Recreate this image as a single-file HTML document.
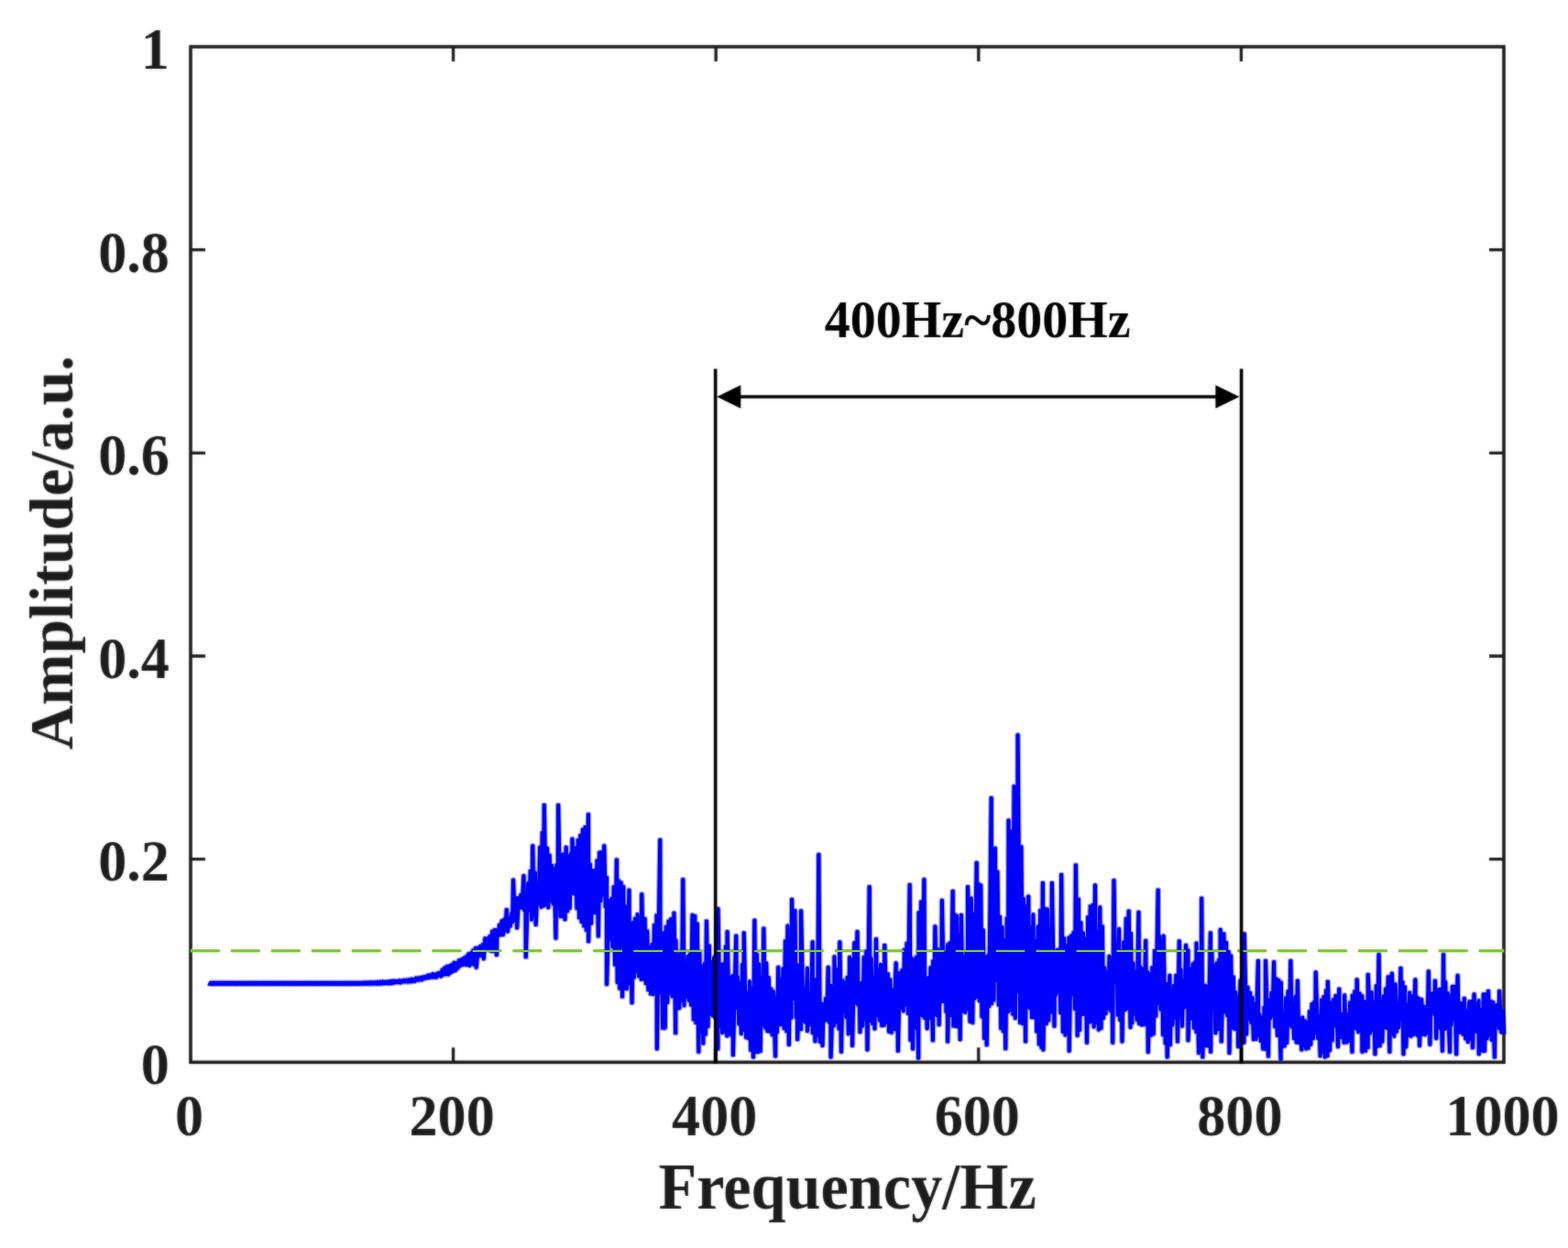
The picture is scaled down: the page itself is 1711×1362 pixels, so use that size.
<!DOCTYPE html>
<html lang="en"><head><meta charset="utf-8"><title>Frequency spectrum</title>
<style>
html,body{margin:0;padding:0;background:#fff;}
body{width:1711px;height:1362px;overflow:hidden;}
svg{display:block;}
text{font-family:"Liberation Serif",serif;font-weight:bold;fill:#1c1c1c;stroke:none;}
.tick{font-size:62.2px;}
.lab{font-size:70px;}
.ylab{font-size:67.3px;}
.ann{font-size:56px;fill:#000;stroke:none;}
</style></head><body>
<svg width="1711" height="1362" viewBox="0 0 1711 1362">
<defs><filter id="soft" x="0" y="0" width="1711" height="1362" filterUnits="userSpaceOnUse"><feGaussianBlur stdDeviation="0.9" result="b"/><feComposite in="SourceGraphic" in2="b" operator="arithmetic" k1="0" k2="0.55" k3="0.45" k4="0"/></filter></defs>
<rect x="0" y="0" width="1711" height="1362" fill="#fff"/>
<g filter="url(#soft)">
<rect x="208.0" y="51.0" width="1433.0" height="1108.3" fill="none" stroke="#1c1c1c" stroke-width="3.6"/>
<path d="M494.6,1159.3 v-16 M494.6,51.0 v16 M781.2,1159.3 v-16 M781.2,51.0 v16 M1067.8,1159.3 v-16 M1067.8,51.0 v16 M1354.4,1159.3 v-16 M1354.4,51.0 v16 M208.0,937.6 h16 M1641.0,937.6 h-16 M208.0,716.0 h16 M1641.0,716.0 h-16 M208.0,494.3 h16 M1641.0,494.3 h-16 M208.0,272.7 h16 M1641.0,272.7 h-16" fill="none" stroke="#1c1c1c" stroke-width="3.3"/>
<line x1="208.1" y1="1037.7" x2="1641.0" y2="1037.7" stroke="#80c63a" stroke-width="3.3" stroke-dasharray="31.6 12.33"/>
</g>
<path d="M227.8,1072.6 229.1,1073.8 230.4,1072.6 231.7,1073.8 233,1072.6 234.3,1073.8 235.6,1072.6 236.9,1073.8 238.2,1072.6 239.5,1073.8 240.8,1072.6 242.1,1073.8 243.4,1072.6 244.7,1073.8 246,1072.6 247.3,1073.8 248.6,1072.6 249.9,1073.8 251.2,1072.6 252.5,1073.8 253.8,1072.6 255.1,1073.8 256.4,1072.6 257.7,1073.8 259,1072.6 260.3,1073.8 261.6,1072.6 262.9,1073.8 264.2,1072.6 265.5,1073.8 266.8,1072.6 268.1,1073.8 269.4,1072.6 270.7,1073.8 272,1072.6 273.3,1073.8 274.6,1072.6 275.9,1073.8 277.2,1072.6 278.5,1073.8 279.8,1072.6 281.1,1073.8 282.4,1072.6 283.7,1073.8 285,1072.6 286.3,1073.8 287.6,1072.6 288.9,1073.8 290.2,1072.6 291.5,1073.8 292.8,1072.6 294.1,1073.8 295.4,1072.6 296.7,1073.8 298,1072.6 299.3,1073.8 300.6,1072.6 301.9,1073.8 303.2,1072.6 304.5,1073.8 305.8,1072.6 307.1,1073.8 308.4,1072.6 309.7,1073.8 311,1072.6 312.3,1073.8 313.6,1072.6 314.9,1073.8 316.2,1072.6 317.5,1073.8 318.8,1072.6 320.1,1073.8 321.4,1072.6 322.7,1073.8 324,1072.6 325.3,1073.8 326.6,1072.6 327.9,1073.8 329.2,1072.6 330.5,1073.8 331.8,1072.6 333.1,1073.8 334.4,1072.6 335.7,1073.8 337,1072.6 338.3,1073.8 339.6,1072.6 340.9,1073.8 342.2,1072.6 343.5,1073.8 344.8,1072.6 346.1,1073.8 347.4,1072.6 348.7,1073.8 350,1072.6 351.3,1073.8 352.6,1072.6 353.9,1073.8 355.2,1072.6 356.5,1073.8 357.8,1072.6 359.1,1073.8 360.4,1072.6 361.7,1073.8 363,1072.6 364.3,1073.8 365.6,1072.6 366.9,1073.8 368.2,1072.6 369.5,1073.8 370.8,1072.6 372.1,1073.8 373.4,1072.6 374.7,1073.8 376,1072.6 377.3,1073.8 378.6,1072.6 379.9,1073.8 381.2,1072.6 382.5,1073.8 383.8,1072.6 385.1,1073.8 386.4,1072.6 387.7,1073.8 389,1072.6 390.3,1073.8 391.6,1072.6 392.9,1073.8 394.2,1072.6 395.5,1073.7 396.8,1072.5 398.1,1073.7 399.4,1072.4 400.7,1073.6 402,1072.3 403.3,1073.6 404.6,1072.2 405.9,1073.5 407.2,1072.2 408.5,1073.4 409.8,1072.1 411.1,1073.6 412.4,1071.8 413.7,1073.5 415,1071.7 416.3,1073.4 417.6,1071.5 418.9,1073.1 420.2,1071.7 421.5,1072.9 422.8,1071.4 424.1,1073.3 425.4,1071.1 426.7,1073 428,1070.7 429.3,1072.7 430.6,1070.6 431.9,1072.1 433.2,1070.9 434.5,1072 435.8,1070.3 437.1,1072.3 438.4,1070.4 439.7,1071.3 441,1069.8 442.3,1071.3 443.6,1069.8 444.9,1071.4 446.2,1069.4 447.5,1071.3 448.8,1068.8 450.1,1071 451.4,1068.9 452.7,1070.6 454,1067.7 455.3,1069.6 456.6,1067.4 457.9,1069.4 459.2,1067 460.5,1069.2 461.8,1066.4 463.1,1067.8 464.4,1065.9 465.7,1067.2 467,1064.6 468.3,1066.9 469.6,1064.3 470.9,1066.4 472.2,1063.2 473.5,1066.4 474.8,1063.7 476.1,1066.5 477.4,1062.5 478.7,1064.5 480,1062 481.3,1065.4 482.6,1058.7 483.9,1063.7 485.2,1056.4 486.5,1063.2 487.8,1054.9 489.1,1063.4 490.4,1054.3 491.7,1061.6 493,1053 494.3,1060 495.6,1050.8 496.9,1059.1 498.2,1051.1 499.5,1056.7 500.8,1048.3 502.1,1054 503.4,1047.4 504.7,1052.9 506,1045.8 507.3,1052.6 508.6,1044.2 509.9,1052.9 511.2,1041.2 512.5,1053.6 513.8,1040.2 515.1,1051.8 516.4,1037.2 517.7,1052.9 519,1034.9 519.8,1055.7 521.6,1034.6 522.9,1043.1 524.2,1032.7 525.5,1042.9 526.8,1031.1 527.8,1046.1 529.4,1024.2 530.7,1035.2 532,1024.3 533.3,1035.6 534.6,1021.8 535.9,1037.6 537.2,1016.6 538.5,1037.8 539.8,1015 541.9,1042 542.4,1015.2 543.7,1021 545,1009.5 546.3,1020.3 547.6,1005.2 548.9,1020 550.2,1003.5 551.5,1015.6 552.8,993.1 554.1,1016.4 555.4,1002.6 556.7,1010.7 558,997 559.3,1006.1 560.1,960.6 561.9,1004.1 563.2,980.2 564.2,1012.4 565.8,980.1 567.1,990.8 568.4,976.9 569.7,990.6 571.5,956 572.3,993.2 573.6,983.9 573.8,1044.3 576.2,964 577.5,993.1 578.8,950.9 580.1,1003.5 581.3,923.3 582.7,998.7 584,952.5 584.7,1009 586.6,964.9 587.9,985.6 589.2,924.9 590.5,989.6 591.8,908.9 593.1,988.6 593.8,878.7 595.7,987.5 597,925.7 598.3,990.1 599.6,933.5 600.9,983.2 602.2,944.7 603.5,986.3 604.8,948.4 606.5,1023.8 607.4,944 608.7,983.5 609.2,878.7 611.3,999.9 612.6,932.7 613.9,1000.1 615.2,932.3 616.5,1003.3 617.7,924.9 619.1,994.3 620.4,934.4 621.7,991 623,931.2 624.3,975 624.5,915.8 626.9,975.1 628.2,925.3 629.5,991.2 630.8,917.1 632.1,1001.4 633.4,911.9 634.7,1005.9 636,905.6 637.3,1010.4 638.6,902.7 639.9,1015 642,889.1 642.2,1027.2 643.8,943.3 645.1,1007.7 646.4,950.1 647.7,996 649,950.1 650.3,996.2 651.6,939.2 652.9,1021.5 654.2,930.5 655.5,983 656.8,930.1 658.1,976.5 659.3,923.3 660.7,989.4 662,957.8 662.1,1073.9 664.6,982.7 665.9,1024.7 667.2,981 668.5,1033.1 669.8,968.1 671.1,1052.6 672.9,938.5 673.7,1072.1 675,961.2 676.3,1078.8 677.6,963.3 679.1,1087.5 680.2,967.8 681.5,1078.8 682.8,989.2 684.1,1078.8 686.5,971.5 686.7,1073.1 688,1009.4 689.6,1094.3 690.6,1006.9 691.9,1066.6 693.2,1002.5 694.5,1060.2 695.8,998.1 697.1,1065.2 698.4,1010.6 699.7,1068.6 700.3,976.1 702.3,1068.6 703.6,1002.7 704.9,1073.2 706.2,1016.2 707.5,1080.3 708.8,1034.4 710.1,1084.5 711.4,1030.9 712.7,1084.9 714,1009.8 715.3,1079.1 716.6,999.1 716.9,1144.4 720.3,916.9 720.5,1083.1 721.8,1032.1 723.1,1121.6 724.4,1017.7 725.7,1121.6 727,1011.6 728.3,1093.9 729.6,1005.6 730.9,1083.6 732.2,1003.1 733.5,1087.2 735.5,996.5 737.2,1127.3 737.4,1026.2 738.7,1101 740,1042 741.3,1100 742.6,1038.8 743.9,1092.3 745.3,960.1 746.5,1097.3 747.8,1054 749.1,1087.7 750.4,1043.8 751.7,1091.7 753,1041.4 754.3,1096.7 755.6,998.8 756.9,1112.5 758.2,999.9 759.5,1116.3 760.8,1008.4 762.4,1147.8 763.4,1040.2 764.7,1126.1 766,1054.5 767.3,1138.5 768.6,1052.1 769.9,1128.7 771,1005.6 772.5,1120.1 773.8,1032.3 775.1,1106.4 776.4,1050 777.7,1108.3 779,1045.3 780.3,1109.9 781.6,1042.8 783.4,1144.4 783.5,992 785.5,1120.2 786.8,1052.2 788.1,1127 789.4,1052.2 790.7,1126.2 792,1033.1 793.3,1130.5 793.6,1017 795.9,1128.7 797.2,1066.4 798.5,1130 799.8,1065 799.9,1151.2 803.3,1021.6 803.7,1099.9 805,1066.4 806.3,1117.5 807.6,1072.4 808.9,1127.9 810.2,1052.8 811.5,1123.9 811.8,1018.2 814.1,1132 815.4,1084.1 816.7,1133.1 818,1071.2 819.3,1146 820.6,1078.9 822,1153.5 823.4,1004.5 824.5,1148.2 825.8,1041.8 827.1,1148 828.4,1052.3 829.7,1147 831,1066.6 832.3,1118.6 833.4,1013.6 834.9,1121.8 836.2,1051.2 837.5,1125.1 838.8,1067.1 840.1,1125.8 841.4,1079.2 842.7,1129.2 844,1082.2 846.1,1152.4 846.6,1088.5 847.9,1126.4 849.3,1055.7 850.5,1118.5 851.8,1068.7 853.1,1118 854.4,1057.4 855.7,1122.1 857,1027.2 858.3,1125.2 859.6,1010.5 860.9,1139.9 862.2,1030.7 863.5,1110.7 864.1,981.8 866.1,1089.8 867.4,994 868.7,1110.3 870,1053 870.2,1134.2 872.6,1069.9 873.9,1123.3 874.1,994.3 876.5,1114.2 877.8,1079 879.1,1115.9 880.9,1056.8 881.1,1125 883,1084.5 884.3,1118.5 886.7,1028.4 886.9,1127.3 888.2,1071.7 889.5,1136.2 890.8,1068.7 892.1,1130.1 893.4,932.8 894.7,1136.8 896,1095.1 897.5,1141 898.6,1095.9 899.9,1114.2 901.2,1089.6 902.5,1113 903.7,1055.7 905.1,1115.9 906.4,1075.6 906.6,1153.5 909,1081.7 910.3,1119.1 910.5,1044.3 912.9,1115.3 914.2,1057.5 915.5,1122.6 916.4,1028.4 918,1147.8 919.4,1070.1 920.7,1103 922,1072.4 923.3,1110 924.6,1066.9 925.9,1128.1 927.2,1044.7 928.5,1122.1 929.8,1047.2 930.1,1141 932.4,1029.1 933.7,1094.7 935.5,1017 936.3,1096.4 937.6,1079.2 938.5,1126.2 940.2,1072.2 941.5,1119.5 942.8,1044.7 944.1,1112.1 945.4,1038.4 946.5,1145.5 948.7,968.1 949.3,1113.9 950.6,1046 951.9,1116.9 953.2,1067.5 954.5,1122.4 956,1025 957.1,1108.2 958.4,1059.2 959.7,1113.5 961,1052.8 962.3,1119.1 963.6,1065.1 964.9,1118.6 965.3,1031.8 967.5,1115.6 968.8,1063 970.1,1125.8 971.4,1069.2 972.7,1126.8 974,1080.4 975.3,1122.9 977.7,1051.2 977.9,1123.7 979.2,1061.5 979.9,1146.7 981.8,1062 983.1,1100.2 984.4,1059.1 985.7,1103.1 987,1036.6 988.3,1096.4 989.6,1029.6 990.9,1105.9 992.7,965.8 993.5,1135 994.8,1045.9 996.1,1144.5 997.4,1047.4 998.7,1121.8 1000,1044.5 1002.2,1154.6 1002.6,996.1 1003.9,1106.9 1005.2,984.2 1006.5,1108.5 1008.4,960.1 1009.1,1111 1010.4,1068.1 1011.7,1122.1 1013,1067 1014.3,1111.5 1015.6,1056.1 1018,1135.3 1018.2,1049 1019.5,1103.1 1020.4,1011.3 1022.1,1108 1023.4,1036.1 1024.7,1118.3 1026,1047.2 1027.3,1093.3 1027.9,982.9 1029.9,1092.9 1031.2,1040.1 1032.5,1104.1 1033.8,1031.4 1034.1,1136.4 1036.4,1029.4 1037.7,1108.1 1039.7,972.7 1040.3,1119.5 1041.6,998 1042.9,1120 1044.2,999.9 1045.5,1120.6 1046.8,1020.3 1047.7,1134.2 1048.9,998.8 1050.7,1103.6 1052,1043.9 1053.3,1104.6 1054.6,1039 1055.9,1101.1 1056.1,968.1 1058.5,1114.6 1059.8,980.5 1061.3,1115.9 1062.4,997.6 1063.7,1089.4 1065.7,941.8 1066.3,1087.7 1067.6,964.5 1068.9,1092.3 1070.2,966.2 1071.5,1109.5 1072.8,1015.4 1074.1,1132.9 1075.4,1044.3 1076.7,1140.3 1078,1043.1 1079.3,1098 1081.7,871.1 1081.9,1095.3 1083.2,928.5 1084.5,1091.4 1085.8,925.9 1087.1,1069.9 1088.4,951.6 1089.7,1096.6 1091,1000.5 1092.3,1122.3 1093.6,1012 1094.9,1125.5 1096.2,1026.1 1097.3,1144.2 1098.8,1002.3 1100.1,1104.1 1100.6,895.6 1102.7,1102.3 1104,907 1105.3,1106.8 1106.6,858.4 1107.9,1111.1 1109.2,880.6 1110.5,1081.9 1110.6,802.2 1113.1,1116 1114.4,924.2 1115.7,1117 1117,981.1 1119.1,1136.5 1119.6,989.1 1120.9,1097.7 1122.2,978.5 1123.5,1100.3 1124.8,1012 1126.1,1110.2 1127.4,998.4 1128.7,1110.5 1130,1027.1 1131.3,1125.8 1132.6,1011.4 1133.9,1139.5 1135.2,993.7 1136.5,1143.1 1137.9,963.7 1138.4,1145.5 1140.4,991.9 1141.7,1117.2 1143,992.5 1144.3,1113.4 1145.6,1015.9 1146.9,1104.7 1147.9,963.7 1150.5,1119.8 1150.8,1046.3 1152.1,1085.7 1153.4,1037 1154.7,1082.6 1156,1036.2 1157.3,1105.1 1158.2,954.7 1159.9,1125.9 1161.2,1024.4 1162.5,1129.5 1163.8,1032.3 1165.1,1122.1 1166.4,1023.5 1166.7,1146.7 1169,1021.2 1170.3,1085.3 1171.6,1017.8 1172.9,1100.9 1173.9,944.4 1175.7,1130 1176.8,981.6 1178.1,1124 1179.4,1007 1180.7,1106.9 1182,1018.3 1183.3,1106.8 1184.6,1024.5 1186,1137.8 1187.2,1001.1 1188.5,1115.6 1189.8,989.2 1191.1,1114.7 1192.4,987.9 1193.7,1120.5 1195,966.3 1196.3,1116.2 1197.6,1016.7 1198.9,1123.6 1200.2,990.2 1201.5,1122 1202.8,1011.1 1204.1,1110.9 1205.4,1056.4 1206.7,1105.9 1208,1060.5 1209.3,1100.7 1210.6,1043.9 1211.9,1102.9 1213.2,1047.7 1214.2,1137.8 1215.5,961.1 1217.1,1071.7 1218.4,1029.7 1219.7,1107.6 1221,1014.1 1222.3,1113.3 1223.6,1038.3 1224.5,1136.5 1226.2,1028.3 1227.5,1102.3 1228.8,1002.9 1230.1,1100.8 1231.7,994.5 1233.5,1121 1234,1018.7 1235.3,1116.3 1236.6,1051.2 1237.9,1106.5 1239.2,1060.5 1240.5,1112.9 1242.5,995.8 1243.1,1117 1244.4,1055.3 1245.7,1118.4 1247,1057.6 1248.3,1118.2 1250.2,1026.7 1250.9,1118.1 1252.2,1060.9 1252.8,1148 1254.8,1062.7 1256.1,1129.6 1257.4,1056 1258.7,1128.1 1260,1037.7 1261.3,1108.7 1263.7,971.5 1263.9,1094.6 1265.2,1021.8 1266.5,1101.5 1267.8,1025.9 1269.1,1129.2 1269.6,1021.6 1271.7,1138.5 1273,1073.8 1273.7,1153.5 1276.4,1064.8 1276.9,1140.3 1278.2,1079.9 1279.5,1118.4 1280.8,1075.9 1282.1,1110.8 1283.4,1064.6 1285,1136.4 1286.8,1027.3 1287.3,1109.3 1288.6,1058.2 1289.9,1119.6 1291.2,1070.9 1292.5,1099.5 1294.1,1031.8 1295.1,1097.6 1296.4,1037.2 1296.5,1135.3 1299,1057.3 1300.3,1111.7 1301.6,1052.3 1302.9,1121.7 1304.2,1050.1 1305.5,1126.1 1305.6,1029.5 1308.1,1149 1309.4,1040.7 1310.7,1131.4 1311.2,980.6 1312.3,1153.5 1314.6,1075.5 1315.9,1141.3 1317.2,1076.6 1318.5,1141.4 1320.9,1018.2 1321.1,1147.8 1322.4,1040.1 1323.7,1101.2 1325,1054.1 1326.3,1127.1 1327.6,1051.2 1328.9,1123.4 1330.2,1047.7 1331.5,1112 1331.7,1014.7 1332.8,1136.4 1335.4,1019.2 1336.7,1104.5 1338,1028.8 1339.3,1108.3 1340.6,1038.8 1341.5,1148.9 1343.2,1043.4 1344.5,1121.6 1345.8,1066.4 1347.1,1122.8 1348.4,1083.1 1349.7,1123.4 1351,1088 1351.1,1142.1 1353.6,1070.4 1354.9,1131.5 1356.2,1068.1 1357.5,1137.6 1357.8,1019.3 1360.1,1128.5 1361.4,1077.5 1362.7,1111.7 1364,1083.5 1365.3,1116 1366.6,1089.1 1367.9,1134.1 1369.2,1095.6 1370.5,1134 1372.9,1048.9 1373.1,1130 1374.4,1107.1 1375.7,1135.9 1377,1110.5 1378.3,1144.5 1379.6,1099.5 1380.9,1144.9 1381,1048.9 1384,1152.4 1384.8,1091.8 1386.1,1111.4 1387.4,1083.5 1388.7,1108.8 1390.1,1050 1391.3,1120.5 1392.6,1068.4 1393.9,1129.9 1395.2,1069.7 1397.6,1155.8 1397.8,1072.4 1399.1,1142.3 1400.4,1107.4 1401.7,1141.5 1403,1089.3 1404.3,1137.9 1405.6,1082 1406.9,1118.5 1408.4,1048.9 1409.5,1120.7 1410.8,1096.5 1412.1,1133.2 1413.4,1087.8 1414.7,1137.5 1415.9,1070.5 1417.3,1138 1418.6,1111.5 1420.4,1145.5 1421.2,1110.6 1422.5,1140.8 1423.8,1114.3 1425.1,1144.4 1426.4,1115.8 1427.7,1143.7 1429,1104.1 1430.3,1139.8 1431.6,1095.8 1432.9,1133.2 1434.2,1093.6 1435.5,1127.5 1435.7,1061.4 1438.1,1133 1439.4,1109.6 1440.7,1152.1 1442,1091.6 1443.3,1148.1 1444.6,1087.8 1445.9,1153.5 1447.2,1081.1 1448.5,1152.3 1448.9,1071.6 1451.1,1146.1 1452.4,1094.2 1453.7,1135.3 1455,1091 1456.3,1119.3 1457.6,1086.7 1460,1142.1 1461.3,1079.6 1461.5,1129.9 1462.8,1106 1464.1,1132.3 1465.4,1110.1 1466.7,1137.6 1467.1,1086.4 1469.3,1137.5 1470.6,1107.3 1471.9,1136.1 1473.2,1094.3 1475.5,1147.8 1475.8,1086.5 1477.1,1121.1 1478.4,1082 1479.7,1122.5 1480.7,1069.4 1482.3,1126.1 1483.6,1084.3 1484.9,1124.2 1486.2,1087.1 1486.4,1147.8 1488.8,1093.1 1490.1,1146.7 1491.4,1100.3 1492.7,1143 1492.8,1063.7 1495.3,1127.4 1496.6,1083 1497.9,1123.5 1499.2,1093.7 1500.5,1150.1 1501.8,1076.1 1503.1,1141.6 1504.6,1042 1505.7,1141.2 1507,1092.5 1508.3,1136.6 1509.6,1087.3 1510.9,1121.1 1512.2,1079.2 1513.5,1122 1514.8,1066.2 1516.4,1147.8 1517.4,1065.7 1518.7,1127.5 1518.9,1062.5 1521.3,1130.7 1522.6,1074.3 1523.9,1125.6 1525.2,1096.4 1526.5,1121.1 1528.5,1056.8 1529.1,1112.3 1530.4,1071.7 1531.5,1150.1 1533,1077.4 1534.3,1142.4 1535.6,1096.9 1536.9,1130.3 1538.2,1083.5 1539.5,1130.8 1540.8,1087.1 1542.1,1129.1 1544.4,1069.4 1544.7,1128.5 1546,1088.3 1547.3,1130.5 1548.6,1090.1 1549,1141 1551.2,1091 1552.5,1128.8 1553.8,1098.6 1555.1,1129.1 1556.4,1099 1557.7,1127 1558.8,1060.3 1560.4,1139.8 1561.6,1084.5 1562.9,1104.5 1564.2,1083.9 1565.5,1107.3 1566,1070.5 1567.2,1133 1569.4,1080.4 1570.7,1121.8 1572,1079.6 1574,1146.7 1575.1,1042 1575.9,1123.1 1577.2,1071.7 1578.5,1122.4 1579.8,1084 1582,1147.8 1582.4,1086.7 1583.7,1118.7 1585,1076.9 1586.3,1112.4 1587.6,1076.6 1589.2,1150.1 1590.6,1064.8 1591.5,1126.7 1592.8,1094.2 1594.1,1126.8 1595.4,1095.2 1596.7,1128.8 1597.9,1089.8 1599.3,1133.4 1600.6,1103.2 1601.9,1136.9 1603.2,1093.2 1604.5,1134.2 1605.8,1093 1607,1143.3 1608.6,1085.3 1609.7,1125.4 1611,1095.1 1612.3,1126.3 1613.6,1092.4 1613.8,1150.1 1616.2,1102.4 1617.5,1146.8 1618.8,1085.2 1620.1,1146.7 1621.4,1085 1622.7,1133.2 1624.1,1081.9 1625.3,1129.5 1626.6,1092.8 1627.9,1135 1629.2,1094.1 1630.9,1153.5 1631.8,1097.3 1633.1,1118.7 1634.4,1096.4 1635.7,1122.2 1636.1,1081.9 1638.3,1126.4 1639.6,1103.2 1640.9,1128.7" fill="none" stroke="#0000ff" stroke-opacity="0.4" stroke-width="6.6" stroke-linejoin="round" stroke-linecap="butt"/>
<path d="M227.8,1072.6 229.1,1073.8 230.4,1072.6 231.7,1073.8 233,1072.6 234.3,1073.8 235.6,1072.6 236.9,1073.8 238.2,1072.6 239.5,1073.8 240.8,1072.6 242.1,1073.8 243.4,1072.6 244.7,1073.8 246,1072.6 247.3,1073.8 248.6,1072.6 249.9,1073.8 251.2,1072.6 252.5,1073.8 253.8,1072.6 255.1,1073.8 256.4,1072.6 257.7,1073.8 259,1072.6 260.3,1073.8 261.6,1072.6 262.9,1073.8 264.2,1072.6 265.5,1073.8 266.8,1072.6 268.1,1073.8 269.4,1072.6 270.7,1073.8 272,1072.6 273.3,1073.8 274.6,1072.6 275.9,1073.8 277.2,1072.6 278.5,1073.8 279.8,1072.6 281.1,1073.8 282.4,1072.6 283.7,1073.8 285,1072.6 286.3,1073.8 287.6,1072.6 288.9,1073.8 290.2,1072.6 291.5,1073.8 292.8,1072.6 294.1,1073.8 295.4,1072.6 296.7,1073.8 298,1072.6 299.3,1073.8 300.6,1072.6 301.9,1073.8 303.2,1072.6 304.5,1073.8 305.8,1072.6 307.1,1073.8 308.4,1072.6 309.7,1073.8 311,1072.6 312.3,1073.8 313.6,1072.6 314.9,1073.8 316.2,1072.6 317.5,1073.8 318.8,1072.6 320.1,1073.8 321.4,1072.6 322.7,1073.8 324,1072.6 325.3,1073.8 326.6,1072.6 327.9,1073.8 329.2,1072.6 330.5,1073.8 331.8,1072.6 333.1,1073.8 334.4,1072.6 335.7,1073.8 337,1072.6 338.3,1073.8 339.6,1072.6 340.9,1073.8 342.2,1072.6 343.5,1073.8 344.8,1072.6 346.1,1073.8 347.4,1072.6 348.7,1073.8 350,1072.6 351.3,1073.8 352.6,1072.6 353.9,1073.8 355.2,1072.6 356.5,1073.8 357.8,1072.6 359.1,1073.8 360.4,1072.6 361.7,1073.8 363,1072.6 364.3,1073.8 365.6,1072.6 366.9,1073.8 368.2,1072.6 369.5,1073.8 370.8,1072.6 372.1,1073.8 373.4,1072.6 374.7,1073.8 376,1072.6 377.3,1073.8 378.6,1072.6 379.9,1073.8 381.2,1072.6 382.5,1073.8 383.8,1072.6 385.1,1073.8 386.4,1072.6 387.7,1073.8 389,1072.6 390.3,1073.8 391.6,1072.6 392.9,1073.8 394.2,1072.6 395.5,1073.7 396.8,1072.5 398.1,1073.7 399.4,1072.4 400.7,1073.6 402,1072.3 403.3,1073.6 404.6,1072.2 405.9,1073.5 407.2,1072.2 408.5,1073.4 409.8,1072.1 411.1,1073.6 412.4,1071.8 413.7,1073.5 415,1071.7 416.3,1073.4 417.6,1071.5 418.9,1073.1 420.2,1071.7 421.5,1072.9 422.8,1071.4 424.1,1073.3 425.4,1071.1 426.7,1073 428,1070.7 429.3,1072.7 430.6,1070.6 431.9,1072.1 433.2,1070.9 434.5,1072 435.8,1070.3 437.1,1072.3 438.4,1070.4 439.7,1071.3 441,1069.8 442.3,1071.3 443.6,1069.8 444.9,1071.4 446.2,1069.4 447.5,1071.3 448.8,1068.8 450.1,1071 451.4,1068.9 452.7,1070.6 454,1067.7 455.3,1069.6 456.6,1067.4 457.9,1069.4 459.2,1067 460.5,1069.2 461.8,1066.4 463.1,1067.8 464.4,1065.9 465.7,1067.2 467,1064.6 468.3,1066.9 469.6,1064.3 470.9,1066.4 472.2,1063.2 473.5,1066.4 474.8,1063.7 476.1,1066.5 477.4,1062.5 478.7,1064.5 480,1062 481.3,1065.4 482.6,1058.7 483.9,1063.7 485.2,1056.4 486.5,1063.2 487.8,1054.9 489.1,1063.4 490.4,1054.3 491.7,1061.6 493,1053 494.3,1060 495.6,1050.8 496.9,1059.1 498.2,1051.1 499.5,1056.7 500.8,1048.3 502.1,1054 503.4,1047.4 504.7,1052.9 506,1045.8 507.3,1052.6 508.6,1044.2 509.9,1052.9 511.2,1041.2 512.5,1053.6 513.8,1040.2 515.1,1051.8 516.4,1037.2 517.7,1052.9 519,1034.9 519.8,1055.7 521.6,1034.6 522.9,1043.1 524.2,1032.7 525.5,1042.9 526.8,1031.1 527.8,1046.1 529.4,1024.2 530.7,1035.2 532,1024.3 533.3,1035.6 534.6,1021.8 535.9,1037.6 537.2,1016.6 538.5,1037.8 539.8,1015 541.9,1042 542.4,1015.2 543.7,1021 545,1009.5 546.3,1020.3 547.6,1005.2 548.9,1020 550.2,1003.5 551.5,1015.6 552.8,993.1 554.1,1016.4 555.4,1002.6 556.7,1010.7 558,997 559.3,1006.1 560.1,960.6 561.9,1004.1 563.2,980.2 564.2,1012.4 565.8,980.1 567.1,990.8 568.4,976.9 569.7,990.6 571.5,956 572.3,993.2 573.6,983.9 573.8,1044.3 576.2,964 577.5,993.1 578.8,950.9 580.1,1003.5 581.3,923.3 582.7,998.7 584,952.5 584.7,1009 586.6,964.9 587.9,985.6 589.2,924.9 590.5,989.6 591.8,908.9 593.1,988.6 593.8,878.7 595.7,987.5 597,925.7 598.3,990.1 599.6,933.5 600.9,983.2 602.2,944.7 603.5,986.3 604.8,948.4 606.5,1023.8 607.4,944 608.7,983.5 609.2,878.7 611.3,999.9 612.6,932.7 613.9,1000.1 615.2,932.3 616.5,1003.3 617.7,924.9 619.1,994.3 620.4,934.4 621.7,991 623,931.2 624.3,975 624.5,915.8 626.9,975.1 628.2,925.3 629.5,991.2 630.8,917.1 632.1,1001.4 633.4,911.9 634.7,1005.9 636,905.6 637.3,1010.4 638.6,902.7 639.9,1015 642,889.1 642.2,1027.2 643.8,943.3 645.1,1007.7 646.4,950.1 647.7,996 649,950.1 650.3,996.2 651.6,939.2 652.9,1021.5 654.2,930.5 655.5,983 656.8,930.1 658.1,976.5 659.3,923.3 660.7,989.4 662,957.8 662.1,1073.9 664.6,982.7 665.9,1024.7 667.2,981 668.5,1033.1 669.8,968.1 671.1,1052.6 672.9,938.5 673.7,1072.1 675,961.2 676.3,1078.8 677.6,963.3 679.1,1087.5 680.2,967.8 681.5,1078.8 682.8,989.2 684.1,1078.8 686.5,971.5 686.7,1073.1 688,1009.4 689.6,1094.3 690.6,1006.9 691.9,1066.6 693.2,1002.5 694.5,1060.2 695.8,998.1 697.1,1065.2 698.4,1010.6 699.7,1068.6 700.3,976.1 702.3,1068.6 703.6,1002.7 704.9,1073.2 706.2,1016.2 707.5,1080.3 708.8,1034.4 710.1,1084.5 711.4,1030.9 712.7,1084.9 714,1009.8 715.3,1079.1 716.6,999.1 716.9,1144.4 720.3,916.9 720.5,1083.1 721.8,1032.1 723.1,1121.6 724.4,1017.7 725.7,1121.6 727,1011.6 728.3,1093.9 729.6,1005.6 730.9,1083.6 732.2,1003.1 733.5,1087.2 735.5,996.5 737.2,1127.3 737.4,1026.2 738.7,1101 740,1042 741.3,1100 742.6,1038.8 743.9,1092.3 745.3,960.1 746.5,1097.3 747.8,1054 749.1,1087.7 750.4,1043.8 751.7,1091.7 753,1041.4 754.3,1096.7 755.6,998.8 756.9,1112.5 758.2,999.9 759.5,1116.3 760.8,1008.4 762.4,1147.8 763.4,1040.2 764.7,1126.1 766,1054.5 767.3,1138.5 768.6,1052.1 769.9,1128.7 771,1005.6 772.5,1120.1 773.8,1032.3 775.1,1106.4 776.4,1050 777.7,1108.3 779,1045.3 780.3,1109.9 781.6,1042.8 783.4,1144.4 783.5,992 785.5,1120.2 786.8,1052.2 788.1,1127 789.4,1052.2 790.7,1126.2 792,1033.1 793.3,1130.5 793.6,1017 795.9,1128.7 797.2,1066.4 798.5,1130 799.8,1065 799.9,1151.2 803.3,1021.6 803.7,1099.9 805,1066.4 806.3,1117.5 807.6,1072.4 808.9,1127.9 810.2,1052.8 811.5,1123.9 811.8,1018.2 814.1,1132 815.4,1084.1 816.7,1133.1 818,1071.2 819.3,1146 820.6,1078.9 822,1153.5 823.4,1004.5 824.5,1148.2 825.8,1041.8 827.1,1148 828.4,1052.3 829.7,1147 831,1066.6 832.3,1118.6 833.4,1013.6 834.9,1121.8 836.2,1051.2 837.5,1125.1 838.8,1067.1 840.1,1125.8 841.4,1079.2 842.7,1129.2 844,1082.2 846.1,1152.4 846.6,1088.5 847.9,1126.4 849.3,1055.7 850.5,1118.5 851.8,1068.7 853.1,1118 854.4,1057.4 855.7,1122.1 857,1027.2 858.3,1125.2 859.6,1010.5 860.9,1139.9 862.2,1030.7 863.5,1110.7 864.1,981.8 866.1,1089.8 867.4,994 868.7,1110.3 870,1053 870.2,1134.2 872.6,1069.9 873.9,1123.3 874.1,994.3 876.5,1114.2 877.8,1079 879.1,1115.9 880.9,1056.8 881.1,1125 883,1084.5 884.3,1118.5 886.7,1028.4 886.9,1127.3 888.2,1071.7 889.5,1136.2 890.8,1068.7 892.1,1130.1 893.4,932.8 894.7,1136.8 896,1095.1 897.5,1141 898.6,1095.9 899.9,1114.2 901.2,1089.6 902.5,1113 903.7,1055.7 905.1,1115.9 906.4,1075.6 906.6,1153.5 909,1081.7 910.3,1119.1 910.5,1044.3 912.9,1115.3 914.2,1057.5 915.5,1122.6 916.4,1028.4 918,1147.8 919.4,1070.1 920.7,1103 922,1072.4 923.3,1110 924.6,1066.9 925.9,1128.1 927.2,1044.7 928.5,1122.1 929.8,1047.2 930.1,1141 932.4,1029.1 933.7,1094.7 935.5,1017 936.3,1096.4 937.6,1079.2 938.5,1126.2 940.2,1072.2 941.5,1119.5 942.8,1044.7 944.1,1112.1 945.4,1038.4 946.5,1145.5 948.7,968.1 949.3,1113.9 950.6,1046 951.9,1116.9 953.2,1067.5 954.5,1122.4 956,1025 957.1,1108.2 958.4,1059.2 959.7,1113.5 961,1052.8 962.3,1119.1 963.6,1065.1 964.9,1118.6 965.3,1031.8 967.5,1115.6 968.8,1063 970.1,1125.8 971.4,1069.2 972.7,1126.8 974,1080.4 975.3,1122.9 977.7,1051.2 977.9,1123.7 979.2,1061.5 979.9,1146.7 981.8,1062 983.1,1100.2 984.4,1059.1 985.7,1103.1 987,1036.6 988.3,1096.4 989.6,1029.6 990.9,1105.9 992.7,965.8 993.5,1135 994.8,1045.9 996.1,1144.5 997.4,1047.4 998.7,1121.8 1000,1044.5 1002.2,1154.6 1002.6,996.1 1003.9,1106.9 1005.2,984.2 1006.5,1108.5 1008.4,960.1 1009.1,1111 1010.4,1068.1 1011.7,1122.1 1013,1067 1014.3,1111.5 1015.6,1056.1 1018,1135.3 1018.2,1049 1019.5,1103.1 1020.4,1011.3 1022.1,1108 1023.4,1036.1 1024.7,1118.3 1026,1047.2 1027.3,1093.3 1027.9,982.9 1029.9,1092.9 1031.2,1040.1 1032.5,1104.1 1033.8,1031.4 1034.1,1136.4 1036.4,1029.4 1037.7,1108.1 1039.7,972.7 1040.3,1119.5 1041.6,998 1042.9,1120 1044.2,999.9 1045.5,1120.6 1046.8,1020.3 1047.7,1134.2 1048.9,998.8 1050.7,1103.6 1052,1043.9 1053.3,1104.6 1054.6,1039 1055.9,1101.1 1056.1,968.1 1058.5,1114.6 1059.8,980.5 1061.3,1115.9 1062.4,997.6 1063.7,1089.4 1065.7,941.8 1066.3,1087.7 1067.6,964.5 1068.9,1092.3 1070.2,966.2 1071.5,1109.5 1072.8,1015.4 1074.1,1132.9 1075.4,1044.3 1076.7,1140.3 1078,1043.1 1079.3,1098 1081.7,871.1 1081.9,1095.3 1083.2,928.5 1084.5,1091.4 1085.8,925.9 1087.1,1069.9 1088.4,951.6 1089.7,1096.6 1091,1000.5 1092.3,1122.3 1093.6,1012 1094.9,1125.5 1096.2,1026.1 1097.3,1144.2 1098.8,1002.3 1100.1,1104.1 1100.6,895.6 1102.7,1102.3 1104,907 1105.3,1106.8 1106.6,858.4 1107.9,1111.1 1109.2,880.6 1110.5,1081.9 1110.6,802.2 1113.1,1116 1114.4,924.2 1115.7,1117 1117,981.1 1119.1,1136.5 1119.6,989.1 1120.9,1097.7 1122.2,978.5 1123.5,1100.3 1124.8,1012 1126.1,1110.2 1127.4,998.4 1128.7,1110.5 1130,1027.1 1131.3,1125.8 1132.6,1011.4 1133.9,1139.5 1135.2,993.7 1136.5,1143.1 1137.9,963.7 1138.4,1145.5 1140.4,991.9 1141.7,1117.2 1143,992.5 1144.3,1113.4 1145.6,1015.9 1146.9,1104.7 1147.9,963.7 1150.5,1119.8 1150.8,1046.3 1152.1,1085.7 1153.4,1037 1154.7,1082.6 1156,1036.2 1157.3,1105.1 1158.2,954.7 1159.9,1125.9 1161.2,1024.4 1162.5,1129.5 1163.8,1032.3 1165.1,1122.1 1166.4,1023.5 1166.7,1146.7 1169,1021.2 1170.3,1085.3 1171.6,1017.8 1172.9,1100.9 1173.9,944.4 1175.7,1130 1176.8,981.6 1178.1,1124 1179.4,1007 1180.7,1106.9 1182,1018.3 1183.3,1106.8 1184.6,1024.5 1186,1137.8 1187.2,1001.1 1188.5,1115.6 1189.8,989.2 1191.1,1114.7 1192.4,987.9 1193.7,1120.5 1195,966.3 1196.3,1116.2 1197.6,1016.7 1198.9,1123.6 1200.2,990.2 1201.5,1122 1202.8,1011.1 1204.1,1110.9 1205.4,1056.4 1206.7,1105.9 1208,1060.5 1209.3,1100.7 1210.6,1043.9 1211.9,1102.9 1213.2,1047.7 1214.2,1137.8 1215.5,961.1 1217.1,1071.7 1218.4,1029.7 1219.7,1107.6 1221,1014.1 1222.3,1113.3 1223.6,1038.3 1224.5,1136.5 1226.2,1028.3 1227.5,1102.3 1228.8,1002.9 1230.1,1100.8 1231.7,994.5 1233.5,1121 1234,1018.7 1235.3,1116.3 1236.6,1051.2 1237.9,1106.5 1239.2,1060.5 1240.5,1112.9 1242.5,995.8 1243.1,1117 1244.4,1055.3 1245.7,1118.4 1247,1057.6 1248.3,1118.2 1250.2,1026.7 1250.9,1118.1 1252.2,1060.9 1252.8,1148 1254.8,1062.7 1256.1,1129.6 1257.4,1056 1258.7,1128.1 1260,1037.7 1261.3,1108.7 1263.7,971.5 1263.9,1094.6 1265.2,1021.8 1266.5,1101.5 1267.8,1025.9 1269.1,1129.2 1269.6,1021.6 1271.7,1138.5 1273,1073.8 1273.7,1153.5 1276.4,1064.8 1276.9,1140.3 1278.2,1079.9 1279.5,1118.4 1280.8,1075.9 1282.1,1110.8 1283.4,1064.6 1285,1136.4 1286.8,1027.3 1287.3,1109.3 1288.6,1058.2 1289.9,1119.6 1291.2,1070.9 1292.5,1099.5 1294.1,1031.8 1295.1,1097.6 1296.4,1037.2 1296.5,1135.3 1299,1057.3 1300.3,1111.7 1301.6,1052.3 1302.9,1121.7 1304.2,1050.1 1305.5,1126.1 1305.6,1029.5 1308.1,1149 1309.4,1040.7 1310.7,1131.4 1311.2,980.6 1312.3,1153.5 1314.6,1075.5 1315.9,1141.3 1317.2,1076.6 1318.5,1141.4 1320.9,1018.2 1321.1,1147.8 1322.4,1040.1 1323.7,1101.2 1325,1054.1 1326.3,1127.1 1327.6,1051.2 1328.9,1123.4 1330.2,1047.7 1331.5,1112 1331.7,1014.7 1332.8,1136.4 1335.4,1019.2 1336.7,1104.5 1338,1028.8 1339.3,1108.3 1340.6,1038.8 1341.5,1148.9 1343.2,1043.4 1344.5,1121.6 1345.8,1066.4 1347.1,1122.8 1348.4,1083.1 1349.7,1123.4 1351,1088 1351.1,1142.1 1353.6,1070.4 1354.9,1131.5 1356.2,1068.1 1357.5,1137.6 1357.8,1019.3 1360.1,1128.5 1361.4,1077.5 1362.7,1111.7 1364,1083.5 1365.3,1116 1366.6,1089.1 1367.9,1134.1 1369.2,1095.6 1370.5,1134 1372.9,1048.9 1373.1,1130 1374.4,1107.1 1375.7,1135.9 1377,1110.5 1378.3,1144.5 1379.6,1099.5 1380.9,1144.9 1381,1048.9 1384,1152.4 1384.8,1091.8 1386.1,1111.4 1387.4,1083.5 1388.7,1108.8 1390.1,1050 1391.3,1120.5 1392.6,1068.4 1393.9,1129.9 1395.2,1069.7 1397.6,1155.8 1397.8,1072.4 1399.1,1142.3 1400.4,1107.4 1401.7,1141.5 1403,1089.3 1404.3,1137.9 1405.6,1082 1406.9,1118.5 1408.4,1048.9 1409.5,1120.7 1410.8,1096.5 1412.1,1133.2 1413.4,1087.8 1414.7,1137.5 1415.9,1070.5 1417.3,1138 1418.6,1111.5 1420.4,1145.5 1421.2,1110.6 1422.5,1140.8 1423.8,1114.3 1425.1,1144.4 1426.4,1115.8 1427.7,1143.7 1429,1104.1 1430.3,1139.8 1431.6,1095.8 1432.9,1133.2 1434.2,1093.6 1435.5,1127.5 1435.7,1061.4 1438.1,1133 1439.4,1109.6 1440.7,1152.1 1442,1091.6 1443.3,1148.1 1444.6,1087.8 1445.9,1153.5 1447.2,1081.1 1448.5,1152.3 1448.9,1071.6 1451.1,1146.1 1452.4,1094.2 1453.7,1135.3 1455,1091 1456.3,1119.3 1457.6,1086.7 1460,1142.1 1461.3,1079.6 1461.5,1129.9 1462.8,1106 1464.1,1132.3 1465.4,1110.1 1466.7,1137.6 1467.1,1086.4 1469.3,1137.5 1470.6,1107.3 1471.9,1136.1 1473.2,1094.3 1475.5,1147.8 1475.8,1086.5 1477.1,1121.1 1478.4,1082 1479.7,1122.5 1480.7,1069.4 1482.3,1126.1 1483.6,1084.3 1484.9,1124.2 1486.2,1087.1 1486.4,1147.8 1488.8,1093.1 1490.1,1146.7 1491.4,1100.3 1492.7,1143 1492.8,1063.7 1495.3,1127.4 1496.6,1083 1497.9,1123.5 1499.2,1093.7 1500.5,1150.1 1501.8,1076.1 1503.1,1141.6 1504.6,1042 1505.7,1141.2 1507,1092.5 1508.3,1136.6 1509.6,1087.3 1510.9,1121.1 1512.2,1079.2 1513.5,1122 1514.8,1066.2 1516.4,1147.8 1517.4,1065.7 1518.7,1127.5 1518.9,1062.5 1521.3,1130.7 1522.6,1074.3 1523.9,1125.6 1525.2,1096.4 1526.5,1121.1 1528.5,1056.8 1529.1,1112.3 1530.4,1071.7 1531.5,1150.1 1533,1077.4 1534.3,1142.4 1535.6,1096.9 1536.9,1130.3 1538.2,1083.5 1539.5,1130.8 1540.8,1087.1 1542.1,1129.1 1544.4,1069.4 1544.7,1128.5 1546,1088.3 1547.3,1130.5 1548.6,1090.1 1549,1141 1551.2,1091 1552.5,1128.8 1553.8,1098.6 1555.1,1129.1 1556.4,1099 1557.7,1127 1558.8,1060.3 1560.4,1139.8 1561.6,1084.5 1562.9,1104.5 1564.2,1083.9 1565.5,1107.3 1566,1070.5 1567.2,1133 1569.4,1080.4 1570.7,1121.8 1572,1079.6 1574,1146.7 1575.1,1042 1575.9,1123.1 1577.2,1071.7 1578.5,1122.4 1579.8,1084 1582,1147.8 1582.4,1086.7 1583.7,1118.7 1585,1076.9 1586.3,1112.4 1587.6,1076.6 1589.2,1150.1 1590.6,1064.8 1591.5,1126.7 1592.8,1094.2 1594.1,1126.8 1595.4,1095.2 1596.7,1128.8 1597.9,1089.8 1599.3,1133.4 1600.6,1103.2 1601.9,1136.9 1603.2,1093.2 1604.5,1134.2 1605.8,1093 1607,1143.3 1608.6,1085.3 1609.7,1125.4 1611,1095.1 1612.3,1126.3 1613.6,1092.4 1613.8,1150.1 1616.2,1102.4 1617.5,1146.8 1618.8,1085.2 1620.1,1146.7 1621.4,1085 1622.7,1133.2 1624.1,1081.9 1625.3,1129.5 1626.6,1092.8 1627.9,1135 1629.2,1094.1 1630.9,1153.5 1631.8,1097.3 1633.1,1118.7 1634.4,1096.4 1635.7,1122.2 1636.1,1081.9 1638.3,1126.4 1639.6,1103.2 1640.9,1128.7" fill="none" stroke="#0000ff" stroke-width="4.1" stroke-linejoin="round" stroke-linecap="butt"/>
<line x1="208.1" y1="1037.9" x2="1641.0" y2="1037.9" stroke="#80c63a" stroke-width="2.3" stroke-dasharray="31.6 12.33"/>
<g filter="url(#soft)">
<line x1="780.7" y1="402.5" x2="780.7" y2="1160.3" stroke="#000" stroke-width="3.6"/>
<line x1="1354.6" y1="402.5" x2="1354.6" y2="1160.3" stroke="#000" stroke-width="3.6"/>
<line x1="794.3" y1="433" x2="1340.4" y2="433" stroke="#000" stroke-width="3.5"/>
<polygon points="782.3,433 808.3,420.2 808.3,445.8" fill="#000"/>
<polygon points="1352.4,433 1326.4,420.2 1326.4,445.8" fill="#000"/>
<text class="ann" x="1066.7" y="368.2" text-anchor="middle">400Hz~800Hz</text>
<text class="tick" transform="translate(206.5,1239.4) scale(1,1.035)" text-anchor="middle">0</text>
<text class="tick" transform="translate(493.1,1239.4) scale(1,1.035)" text-anchor="middle">200</text>
<text class="tick" transform="translate(779.7,1239.4) scale(1,1.035)" text-anchor="middle">400</text>
<text class="tick" transform="translate(1066.3,1239.4) scale(1,1.035)" text-anchor="middle">600</text>
<text class="tick" transform="translate(1352.9,1239.4) scale(1,1.035)" text-anchor="middle">800</text>
<text class="tick" transform="translate(1639.5,1239.4) scale(1,1.035)" text-anchor="middle">1000</text>
<text class="tick" transform="translate(184.9,1183.1) scale(1,1.035)" text-anchor="end">0</text>
<text class="tick" transform="translate(184.9,961.4) scale(1,1.035)" text-anchor="end">0.2</text>
<text class="tick" transform="translate(184.9,739.8) scale(1,1.035)" text-anchor="end">0.4</text>
<text class="tick" transform="translate(184.9,518.1) scale(1,1.035)" text-anchor="end">0.6</text>
<text class="tick" transform="translate(184.9,296.5) scale(1,1.035)" text-anchor="end">0.8</text>
<text class="tick" transform="translate(184.9,74.8) scale(1,1.035)" text-anchor="end">1</text>
<text class="lab" transform="translate(924.6,1319.0) scale(0.976,1.015)" text-anchor="middle">Frequency/Hz</text>
<text class="ylab" transform="translate(79,603.2) rotate(-90)" text-anchor="middle">Amplitude/a.u.</text>
</g>
</svg>
</body></html>
